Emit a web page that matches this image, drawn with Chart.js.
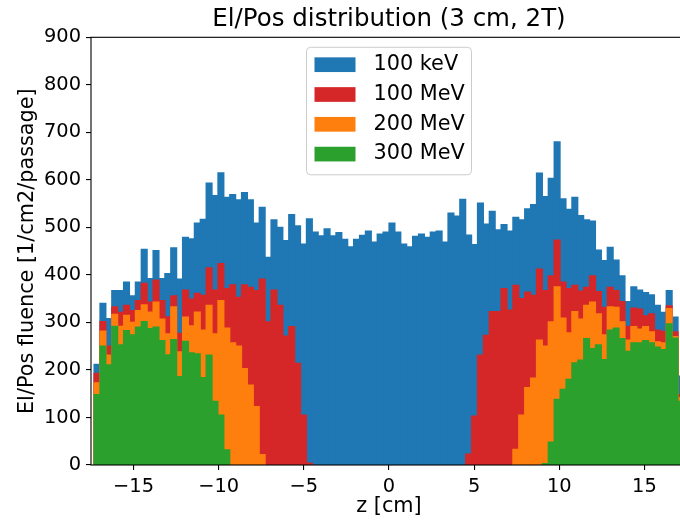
<!DOCTYPE html>
<html lang="en">
<head>
  <meta charset="UTF-8" />
  <title>El/Pos distribution (3 cm, 2T)</title>
  <script src="https://cdn.jsdelivr.net/npm/chart.js"></script>
  <style>
    html, body { margin: 0; padding: 0; background: #fff; }
    body { width: 680px; height: 520px; overflow: hidden; }
    /* axes run to z = 17.5 just past the right edge, like the cropped original */
    #wrap { width: 688px; height: 520px; position: relative; }
  </style>
</head>
<body>
  <div id="wrap"><canvas id="fluenceChart"></canvas></div>
  <script>
    // histogram binning in z [cm], 100 bins
    const binStart = -17.32;
    const binWidth = 0.3464;

    const chartTitle = 'El/Pos distribution (3 cm, 2T)';
    const seriesLabels = ['100 keV', '100 MeV', '200 MeV', '300 MeV'];
    const seriesColors = ['#1f77b4', '#d62728', '#ff7f0e', '#2ca02c'];

    const xTicks = [-15, -10, -5, 0, 5, 10, 15];
    const yTicks = [0, 100, 200, 300, 400, 500, 600, 700, 800, 900];

    const fluence100keV = [
      212, 340, 308, 367, 367, 385, 356, 385, 454, 392,
      451, 392, 403, 457, 391, 479, 476, 509, 517, 593,
      567, 615, 563, 569, 558, 573, 558, 509, 542, 437,
      516, 500, 472, 527, 503, 465, 518, 490, 482, 497,
      482, 489, 475, 459, 475, 483, 492, 469, 486, 490,
      509, 490, 465, 459, 481, 486, 479, 490, 492, 469,
      530, 524, 559, 484, 464, 551, 507, 534, 495, 506,
      492, 521, 516, 539, 548, 614, 565, 603, 680, 560,
      538, 563, 525, 516, 513, 452, 430, 458, 431, 398,
      344, 375, 368, 363, 358, 336, 321, 367, 311, 187
    ];
    const fluence100MeV = [
      193, 302, 250, 333, 321, 336, 325, 346, 382, 343,
      389, 346, 312, 356, 277, 368, 349, 361, 357, 415,
      368, 424, 371, 379, 353, 379, 374, 367, 391, 301,
      368, 336, 271, 291, 214, 105, 4, 0, 0, 0,
      0, 0, 0, 0, 0, 0, 0, 0, 0, 0,
      0, 0, 0, 0, 0, 0, 0, 0, 0, 0,
      0, 0, 0, 23, 103, 231, 273, 323, 323, 371,
      326, 378, 350, 364, 357, 412, 367, 398, 473, 385,
      371, 378, 366, 374, 398, 365, 332, 374, 367, 344,
      292, 330, 328, 314, 318, 284, 281, 335, 280, 148
    ];
    const fluence200MeV = [
      173, 282, 231, 317, 292, 315, 300, 325, 337, 322,
      343, 307, 276, 333, 238, 311, 293, 322, 284, 336,
      276, 346, 288, 257, 250, 203, 168, 123, 22, 0,
      0, 0, 0, 0, 0, 0, 0, 0, 0, 0,
      0, 0, 0, 0, 0, 0, 0, 0, 0, 0,
      0, 0, 0, 0, 0, 0, 0, 0, 0, 0,
      0, 0, 0, 0, 0, 0, 0, 0, 0, 0,
      0, 33, 105, 163, 183, 263, 250, 301, 375, 309,
      278, 323, 307, 336, 343, 318, 274, 333, 332, 301,
      263, 291, 286, 291, 280, 259, 257, 329, 270, 142
    ];
    const fluence300MeV = [
      148, 250, 211, 292, 253, 283, 274, 290, 302, 287,
      290, 262, 232, 264, 186, 260, 236, 234, 184, 231,
      134, 105, 32, 0, 0, 0, 0, 0, 0, 0,
      0, 0, 0, 0, 0, 0, 0, 0, 0, 0,
      0, 0, 0, 0, 0, 0, 0, 0, 0, 0,
      0, 0, 0, 0, 0, 0, 0, 0, 0, 0,
      0, 0, 0, 0, 0, 0, 0, 0, 0, 0,
      0, 0, 0, 0, 0, 0, 3, 48, 138, 159,
      180, 215, 221, 266, 245, 253, 222, 284, 288, 266,
      239, 257, 257, 262, 257, 248, 243, 297, 267, 134
    ];

    const allSeries = [fluence100keV, fluence100MeV, fluence200MeV, fluence300MeV];
    const binCenters = fluence100keV.map((_, i) => binStart + binWidth * (i + 0.5));

    Chart.defaults.font.family = '"DejaVu Sans", sans-serif';
    Chart.defaults.color = '#000';

    // spines on all four sides, drawn over the bars
    const frame = {
      id: 'frame',
      afterDatasetsDraw(chart) {
        const { ctx, chartArea: a } = chart;
        ctx.save();
        ctx.strokeStyle = '#000';
        ctx.lineWidth = 1.1;
        ctx.strokeRect(a.left, a.top, a.right - a.left, a.bottom - a.top);
        ctx.restore();
      }
    };

    // matplotlib style legend box inside the axes, top center
    const boxLegend = {
      id: 'boxLegend',
      afterDraw(chart) {
        const { ctx, chartArea: a } = chart;
        const w = 165, h = 127.5;
        const x0 = (a.left + a.right) / 2 - w / 2;
        const y0 = a.top + 10;
        ctx.save();
        ctx.beginPath();
        ctx.roundRect(x0, y0, w, h, 4);
        ctx.fillStyle = 'rgba(255,255,255,0.8)';
        ctx.fill();
        ctx.strokeStyle = '#cccccc';
        ctx.lineWidth = 1;
        ctx.stroke();
        ctx.font = '20.8px "DejaVu Sans"';
        ctx.textBaseline = 'middle';
        chart.data.datasets.forEach((ds, i) => {
          const cy = y0 + 17.4 + i * 29.8;
          ctx.fillStyle = ds.backgroundColor;
          ctx.fillRect(x0 + 8, cy - 7.35, 41, 14.7);
          ctx.fillStyle = '#000';
          ctx.fillText(ds.label, x0 + 67, cy);
        });
        ctx.restore();
      }
    };

    const tickGrid = {
      drawOnChartArea: false,
      drawTicks: true,
      tickLength: 5,
      lineWidth: 1.1,
      tickWidth: 1.1,
      tickColor: '#000',
      offset: false
    };

    new Chart(document.getElementById('fluenceChart'), {
      type: 'bar',
      data: {
        datasets: allSeries.map((vals, i) => ({
          label: seriesLabels[i],
          data: vals.map((v, k) => ({ x: binCenters[k], y: v > 0 ? v : null })),
          backgroundColor: seriesColors[i],
          borderWidth: 0,
          inflateAmount: 0.6,   // close the hairline seams between bins
          barPercentage: 1,
          categoryPercentage: 1,
          grouped: false,
          order: allSeries.length - i   // 300 MeV drawn on top
        }))
      },
      options: {
        responsive: true,
        maintainAspectRatio: false,
        animation: false,
        layout: { padding: { left: 0, right: 1, top: 0, bottom: 0 } },
        plugins: {
          legend: { display: false },
          tooltip: { enabled: false },
          title: {
            display: true,
            text: chartTitle,
            fullSize: false,
            font: { size: 24.5, weight: 'normal' },
            color: '#000',
            padding: { top: 4.8, bottom: 3.1 }
          }
        },
        scales: {
          x: {
            type: 'linear',
            min: -17.5,
            max: 17.5,
            offset: false,
            afterBuildTicks: s => { s.ticks = xTicks.map(v => ({ value: v })); },
            afterFit: s => { s.height = 55; },
            ticks: {
              padding: 5,
              autoSkip: false,
              maxRotation: 0,
              font: { size: 19.4 },
              callback: v => v < 0 ? '\u2212' + (-v) : String(v)
            },
            grid: tickGrid,
            border: { display: false },
            title: {
              display: true,
              text: 'z [cm]',
              font: { size: 20.8 },
              padding: { top: 0, bottom: 1 }
            }
          },
          y: {
            min: 0,
            max: 900,
            afterBuildTicks: s => { s.ticks = yTicks.map(v => ({ value: v })); },
            afterFit: s => { s.width = 91; },
            ticks: { padding: 5, font: { size: 19.4 } },
            grid: tickGrid,
            border: { display: false },
            title: {
              display: true,
              text: 'El/Pos fluence [1/cm2/passage]',
              font: { size: 20.8 },
              padding: { top: 15.5, bottom: 0 }
            }
          }
        }
      },
      plugins: [frame, boxLegend]
    });
  </script>
</body>
</html>
